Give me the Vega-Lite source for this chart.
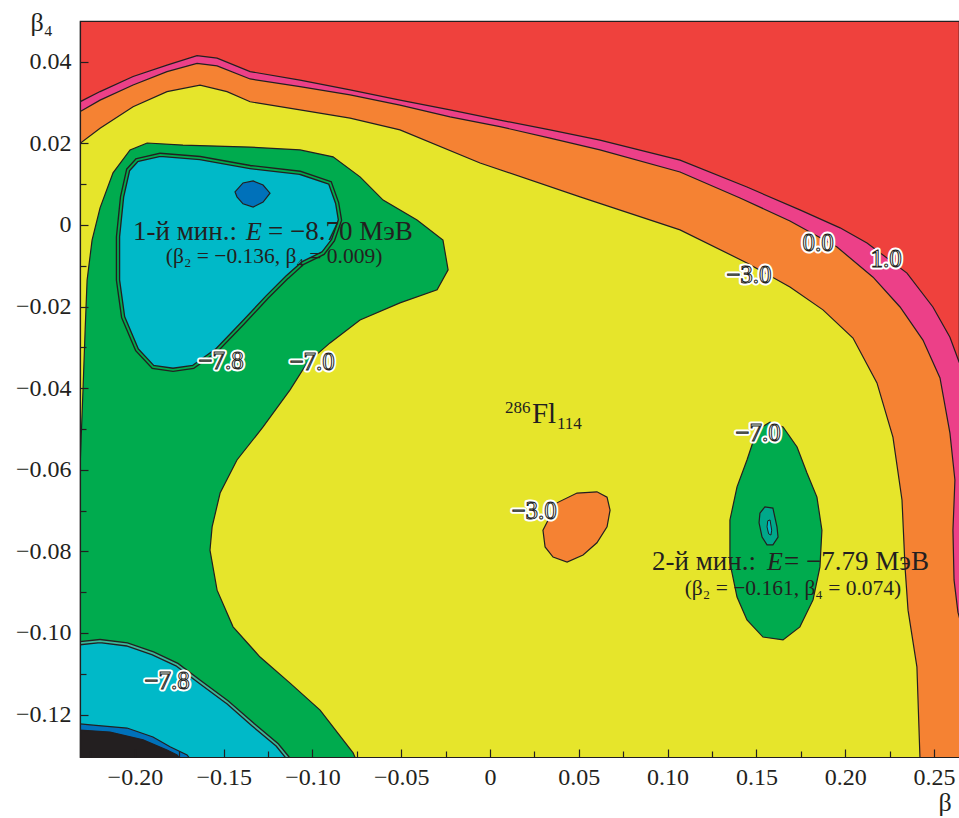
{
"$schema":"https://vega.github.io/schema/vega-lite/v6.json",
"width":879,"height":736,
"autosize":{"type":"none"},
"padding":{"left":80,"top":21,"right":0,"bottom":61},
"background":"white",
"view":{"fill":"#EF413D","stroke":"#231F20","strokeWidth":1.2},
"config":{"font":"Liberation Serif","axis":{"labelFont":"Liberation Serif","titleFont":"Liberation Serif"},"text":{"font":"Liberation Serif"}},
"resolve":{"axis":{"x":"independent","y":"independent"}},
"datasets":{
"poly":[
{"r":"pink","i":0,"x":-0.26,"y":0.0302},{"r":"pink","i":1,"x":-0.2309,"y":0.0302},{"r":"pink","i":2,"x":-0.2196,"y":0.0327},{"r":"pink","i":3,"x":-0.2010,"y":0.0364},{"r":"pink","i":4,"x":-0.1819,"y":0.0392},{"r":"pink","i":5,"x":-0.1650,"y":0.0415},{"r":"pink","i":6,"x":-0.1537,"y":0.0409},{"r":"pink","i":7,"x":-0.1351,"y":0.0376},{"r":"pink","i":8,"x":-0.1070,"y":0.0355},{"r":"pink","i":9,"x":-0.0788,"y":0.0331},{"r":"pink","i":10,"x":-0.0507,"y":0.0306},{"r":"pink","i":11,"x":-0.0225,"y":0.0282},{"r":"pink","i":12,"x":0.0056,"y":0.0257},{"r":"pink","i":13,"x":0.0338,"y":0.0233},{"r":"pink","i":14,"x":0.0619,"y":0.0208},{"r":"pink","i":15,"x":0.1070,"y":0.0159},{"r":"pink","i":16,"x":0.1447,"y":0.0093},{"r":"pink","i":17,"x":0.1745,"y":0.0037},{"r":"pink","i":18,"x":0.1971,"y":-0.0007},{"r":"pink","i":19,"x":0.2123,"y":-0.0044},{"r":"pink","i":20,"x":0.2348,"y":-0.0118},{"r":"pink","i":21,"x":0.2494,"y":-0.0201},{"r":"pink","i":22,"x":0.2590,"y":-0.0275},{"r":"pink","i":23,"x":0.2641,"y":-0.0335},{"r":"pink","i":24,"x":0.2731,"y":-0.0430},{"r":"pink","i":25,"x":0.30,"y":-0.2},{"r":"pink","i":26,"x":-0.26,"y":-0.2},
{"r":"orange","i":0,"x":-0.26,"y":0.0278},{"r":"orange","i":1,"x":-0.2309,"y":0.0278},{"r":"orange","i":2,"x":-0.2196,"y":0.0306},{"r":"orange","i":3,"x":-0.2010,"y":0.0343},{"r":"orange","i":4,"x":-0.1819,"y":0.0376},{"r":"orange","i":5,"x":-0.1650,"y":0.0396},{"r":"orange","i":6,"x":-0.1537,"y":0.0390},{"r":"orange","i":7,"x":-0.1351,"y":0.0358},{"r":"orange","i":8,"x":-0.1070,"y":0.0339},{"r":"orange","i":9,"x":-0.0788,"y":0.0319},{"r":"orange","i":10,"x":-0.0507,"y":0.0294},{"r":"orange","i":11,"x":-0.0225,"y":0.0265},{"r":"orange","i":12,"x":0.0056,"y":0.0241},{"r":"orange","i":13,"x":0.0338,"y":0.0213},{"r":"orange","i":14,"x":0.0619,"y":0.0184},{"r":"orange","i":15,"x":0.1070,"y":0.0130},{"r":"orange","i":16,"x":0.1408,"y":0.0066},{"r":"orange","i":17,"x":0.1689,"y":0.0010},{"r":"orange","i":18,"x":0.1954,"y":-0.0054},{"r":"orange","i":19,"x":0.2157,"y":-0.0128},{"r":"orange","i":20,"x":0.2309,"y":-0.0201},{"r":"orange","i":21,"x":0.2438,"y":-0.0282},{"r":"orange","i":22,"x":0.2534,"y":-0.0375},{"r":"orange","i":23,"x":0.2590,"y":-0.0510},{"r":"orange","i":24,"x":0.2618,"y":-0.0625},{"r":"orange","i":25,"x":0.2607,"y":-0.0748},{"r":"orange","i":26,"x":0.2613,"y":-0.0870},{"r":"orange","i":27,"x":0.2635,"y":-0.0949},{"r":"orange","i":28,"x":0.2691,"y":-0.1042},{"r":"orange","i":29,"x":0.30,"y":-0.1042},{"r":"orange","i":30,"x":0.30,"y":-0.2},{"r":"orange","i":31,"x":-0.26,"y":-0.2},
{"r":"yellow","i":0,"x":-0.26,"y":0.0200},{"r":"yellow","i":1,"x":-0.2309,"y":0.0200},{"r":"yellow","i":2,"x":-0.2196,"y":0.0237},{"r":"yellow","i":3,"x":-0.2010,"y":0.0290},{"r":"yellow","i":4,"x":-0.1819,"y":0.0327},{"r":"yellow","i":5,"x":-0.1633,"y":0.0343},{"r":"yellow","i":6,"x":-0.1481,"y":0.0327},{"r":"yellow","i":7,"x":-0.1351,"y":0.0302},{"r":"yellow","i":8,"x":-0.1070,"y":0.0282},{"r":"yellow","i":9,"x":-0.0788,"y":0.0262},{"r":"yellow","i":10,"x":-0.0507,"y":0.0233},{"r":"yellow","i":11,"x":-0.0056,"y":0.0152},{"r":"yellow","i":12,"x":0.0507,"y":0.0069},{"r":"yellow","i":13,"x":0.1070,"y":-0.0012},{"r":"yellow","i":14,"x":0.1447,"y":-0.0093},{"r":"yellow","i":15,"x":0.1689,"y":-0.0152},{"r":"yellow","i":16,"x":0.1875,"y":-0.0208},{"r":"yellow","i":17,"x":0.2044,"y":-0.0277},{"r":"yellow","i":18,"x":0.2179,"y":-0.0387},{"r":"yellow","i":19,"x":0.2269,"y":-0.0520},{"r":"yellow","i":20,"x":0.2320,"y":-0.0674},{"r":"yellow","i":21,"x":0.2337,"y":-0.0838},{"r":"yellow","i":22,"x":0.2354,"y":-0.0944},{"r":"yellow","i":23,"x":0.2404,"y":-0.1083},{"r":"yellow","i":24,"x":0.2421,"y":-0.1304},{"r":"yellow","i":25,"x":0.2421,"y":-0.2},{"r":"yellow","i":26,"x":-0.26,"y":-0.2},
{"r":"green","i":0,"x":-0.26,"y":-0.0650},{"r":"green","i":1,"x":-0.2330,"y":-0.0650},{"r":"green","i":2,"x":-0.2309,"y":-0.0600},{"r":"green","i":3,"x":-0.2303,"y":-0.0527},{"r":"green","i":4,"x":-0.2292,"y":-0.0404},{"r":"green","i":5,"x":-0.2280,"y":-0.0257},{"r":"green","i":6,"x":-0.2269,"y":-0.0135},{"r":"green","i":7,"x":-0.2241,"y":-0.0037},{"r":"green","i":8,"x":-0.2196,"y":0.0042},{"r":"green","i":9,"x":-0.2123,"y":0.0128},{"r":"green","i":10,"x":-0.2027,"y":0.0184},{"r":"green","i":11,"x":-0.1931,"y":0.0201},{"r":"green","i":12,"x":-0.1729,"y":0.0196},{"r":"green","i":13,"x":-0.1351,"y":0.0191},{"r":"green","i":14,"x":-0.1070,"y":0.0184},{"r":"green","i":15,"x":-0.0884,"y":0.0167},{"r":"green","i":16,"x":-0.0732,"y":0.0118},{"r":"green","i":17,"x":-0.0602,"y":0.0061},{"r":"green","i":18,"x":-0.0411,"y":0.0012},{"r":"green","i":19,"x":-0.0265,"y":-0.0037},{"r":"green","i":20,"x":-0.0236,"y":-0.0110},{"r":"green","i":21,"x":-0.0298,"y":-0.0159},{"r":"green","i":22,"x":-0.0507,"y":-0.0191},{"r":"green","i":23,"x":-0.0732,"y":-0.0233},{"r":"green","i":24,"x":-0.0901,"y":-0.0289},{"r":"green","i":25,"x":-0.1030,"y":-0.0338},{"r":"green","i":26,"x":-0.1126,"y":-0.0404},{"r":"green","i":27,"x":-0.1278,"y":-0.0495},{"r":"green","i":28,"x":-0.1425,"y":-0.0576},{"r":"green","i":29,"x":-0.1520,"y":-0.0657},{"r":"green","i":30,"x":-0.1565,"y":-0.0740},{"r":"green","i":31,"x":-0.1577,"y":-0.0797},{"r":"green","i":32,"x":-0.1537,"y":-0.0895},{"r":"green","i":33,"x":-0.1447,"y":-0.0985},{"r":"green","i":34,"x":-0.1295,"y":-0.1059},{"r":"green","i":35,"x":-0.1126,"y":-0.1123},{"r":"green","i":36,"x":-0.0957,"y":-0.1189},{"r":"green","i":37,"x":-0.0771,"y":-0.1294},{"r":"green","i":38,"x":-0.0704,"y":-0.1360},{"r":"green","i":39,"x":-0.0704,"y":-0.2},{"r":"green","i":40,"x":-0.26,"y":-0.2},
{"r":"oblob","i":0,"x":0.0298,"y":-0.0748},{"r":"oblob","i":1,"x":0.0377,"y":-0.0681},{"r":"oblob","i":2,"x":0.0490,"y":-0.0657},{"r":"oblob","i":3,"x":0.0602,"y":-0.0654},{"r":"oblob","i":4,"x":0.0659,"y":-0.0667},{"r":"oblob","i":5,"x":0.0676,"y":-0.0699},{"r":"oblob","i":6,"x":0.0659,"y":-0.0740},{"r":"oblob","i":7,"x":0.0602,"y":-0.0779},{"r":"oblob","i":8,"x":0.0524,"y":-0.0809},{"r":"oblob","i":9,"x":0.0434,"y":-0.0826},{"r":"oblob","i":10,"x":0.0355,"y":-0.0814},{"r":"oblob","i":11,"x":0.0310,"y":-0.0789},
{"r":"green2","i":0,"x":0.1503,"y":-0.0503},{"r":"green2","i":1,"x":0.1577,"y":-0.0483},{"r":"green2","i":2,"x":0.1650,"y":-0.0495},{"r":"green2","i":3,"x":0.1729,"y":-0.0544},{"r":"green2","i":4,"x":0.1785,"y":-0.0608},{"r":"green2","i":5,"x":0.1841,"y":-0.0667},{"r":"green2","i":6,"x":0.1869,"y":-0.0748},{"r":"green2","i":7,"x":0.1858,"y":-0.0838},{"r":"green2","i":8,"x":0.1819,"y":-0.0919},{"r":"green2","i":9,"x":0.1745,"y":-0.0985},{"r":"green2","i":10,"x":0.1650,"y":-0.1017},{"r":"green2","i":11,"x":0.1537,"y":-0.1010},{"r":"green2","i":12,"x":0.1447,"y":-0.0968},{"r":"green2","i":13,"x":0.1391,"y":-0.0912},{"r":"green2","i":14,"x":0.1351,"y":-0.0828},{"r":"green2","i":15,"x":0.1351,"y":-0.0723},{"r":"green2","i":16,"x":0.1391,"y":-0.0642},{"r":"green2","i":17,"x":0.1447,"y":-0.0576},
{"r":"teal2","i":0,"x":0.1520,"y":-0.0706},{"r":"teal2","i":1,"x":0.1548,"y":-0.0691},{"r":"teal2","i":2,"x":0.1593,"y":-0.0694},{"r":"teal2","i":3,"x":0.1616,"y":-0.0740},{"r":"teal2","i":4,"x":0.1622,"y":-0.0765},{"r":"teal2","i":5,"x":0.1593,"y":-0.0784},{"r":"teal2","i":6,"x":0.1560,"y":-0.0784},{"r":"teal2","i":7,"x":0.1532,"y":-0.0765},{"r":"teal2","i":8,"x":0.1515,"y":-0.0730},
{"r":"cyan3","i":0,"x":0.1564,"y":-0.0725},{"r":"cyan3","i":1,"x":0.1577,"y":-0.0723},{"r":"cyan3","i":2,"x":0.1586,"y":-0.0748},{"r":"cyan3","i":3,"x":0.1582,"y":-0.0760},{"r":"cyan3","i":4,"x":0.1569,"y":-0.0757},{"r":"cyan3","i":5,"x":0.1560,"y":-0.0740},
{"r":"cyan1","i":0,"x":-0.1988,"y":0.0159},{"r":"cyan1","i":1,"x":-0.1858,"y":0.0172},{"r":"cyan1","i":2,"x":-0.1633,"y":0.0164},{"r":"cyan1","i":3,"x":-0.1351,"y":0.0142},{"r":"cyan1","i":4,"x":-0.1070,"y":0.0128},{"r":"cyan1","i":5,"x":-0.0901,"y":0.0103},{"r":"cyan1","i":6,"x":-0.0861,"y":0.0054},{"r":"cyan1","i":7,"x":-0.0845,"y":0.0012},{"r":"cyan1","i":8,"x":-0.0884,"y":-0.0037},{"r":"cyan1","i":9,"x":-0.0940,"y":-0.0069},{"r":"cyan1","i":10,"x":-0.1053,"y":-0.0093},{"r":"cyan1","i":11,"x":-0.1143,"y":-0.0128},{"r":"cyan1","i":12,"x":-0.1256,"y":-0.0177},{"r":"cyan1","i":13,"x":-0.1391,"y":-0.0240},{"r":"cyan1","i":14,"x":-0.1537,"y":-0.0306},{"r":"cyan1","i":15,"x":-0.1672,"y":-0.0348},{"r":"cyan1","i":16,"x":-0.1785,"y":-0.0355},{"r":"cyan1","i":17,"x":-0.1898,"y":-0.0348},{"r":"cyan1","i":18,"x":-0.1988,"y":-0.0306},{"r":"cyan1","i":19,"x":-0.2066,"y":-0.0226},{"r":"cyan1","i":20,"x":-0.2095,"y":-0.0135},{"r":"cyan1","i":21,"x":-0.2095,"y":-0.0029},{"r":"cyan1","i":22,"x":-0.2072,"y":0.0069},{"r":"cyan1","i":23,"x":-0.2038,"y":0.0135},
{"r":"blue1","i":0,"x":-0.1436,"y":0.0081},{"r":"blue1","i":1,"x":-0.1391,"y":0.0103},{"r":"blue1","i":2,"x":-0.1334,"y":0.0108},{"r":"blue1","i":3,"x":-0.1278,"y":0.0098},{"r":"blue1","i":4,"x":-0.1239,"y":0.0078},{"r":"blue1","i":5,"x":-0.1278,"y":0.0056},{"r":"blue1","i":6,"x":-0.1334,"y":0.0044},{"r":"blue1","i":7,"x":-0.1391,"y":0.0052},{"r":"blue1","i":8,"x":-0.1425,"y":0.0069},
{"r":"cyan2","i":0,"x":-0.26,"y":-0.1025},{"r":"cyan2","i":1,"x":-0.2309,"y":-0.1025},{"r":"cyan2","i":2,"x":-0.2196,"y":-0.1020},{"r":"cyan2","i":3,"x":-0.2044,"y":-0.1028},{"r":"cyan2","i":4,"x":-0.1898,"y":-0.1050},{"r":"cyan2","i":5,"x":-0.1762,"y":-0.1078},{"r":"cyan2","i":6,"x":-0.1633,"y":-0.1120},{"r":"cyan2","i":7,"x":-0.1481,"y":-0.1169},{"r":"cyan2","i":8,"x":-0.1334,"y":-0.1225},{"r":"cyan2","i":9,"x":-0.1199,"y":-0.1274},{"r":"cyan2","i":10,"x":-0.1143,"y":-0.1304},{"r":"cyan2","i":11,"x":-0.1087,"y":-0.1336},{"r":"cyan2","i":12,"x":-0.1087,"y":-0.2},{"r":"cyan2","i":13,"x":-0.26,"y":-0.2},
{"r":"blue2","i":0,"x":-0.26,"y":-0.1223},{"r":"blue2","i":1,"x":-0.2309,"y":-0.1223},{"r":"blue2","i":2,"x":-0.2235,"y":-0.1226},{"r":"blue2","i":3,"x":-0.2044,"y":-0.1233},{"r":"blue2","i":4,"x":-0.1898,"y":-0.1255},{"r":"blue2","i":5,"x":-0.1802,"y":-0.1279},{"r":"blue2","i":6,"x":-0.1706,"y":-0.1299},{"r":"blue2","i":7,"x":-0.1661,"y":-0.1324},{"r":"blue2","i":8,"x":-0.1661,"y":-0.2},{"r":"blue2","i":9,"x":-0.26,"y":-0.2},
{"r":"black2","i":0,"x":-0.26,"y":-0.1238},{"r":"black2","i":1,"x":-0.2309,"y":-0.1238},{"r":"black2","i":2,"x":-0.2140,"y":-0.1243},{"r":"black2","i":3,"x":-0.1954,"y":-0.1262},{"r":"black2","i":4,"x":-0.1819,"y":-0.1287},{"r":"black2","i":5,"x":-0.1762,"y":-0.1299},{"r":"black2","i":6,"x":-0.1717,"y":-0.1324},{"r":"black2","i":7,"x":-0.1717,"y":-0.2},{"r":"black2","i":8,"x":-0.26,"y":-0.2}
],
"clabels":[
{"t":"0.0","x":0.1847,"y":-0.0044},{"t":"1.0","x":0.2230,"y":-0.0083},{"t":"−3.0","x":0.1458,"y":-0.0123},{"t":"−7.8","x":-0.1515,"y":-0.0333},{"t":"−7.0","x":-0.1002,"y":-0.0336},{"t":"−7.0","x":0.1509,"y":-0.0510},{"t":"−3.0","x":0.0248,"y":-0.0701},{"t":"−7.8","x":-0.1819,"y":-0.1118}
],
"notes":[
{"t":"1-й мин.:","x":-0.2010,"y":-0.0037},{"t":"= −8.70 МэВ","x":-0.1250,"y":-0.0037},{"t":"2-й мин.:","x":0.0912,"y":-0.0846},{"t":"= −7.79 МэВ","x":0.1656,"y":-0.0846}
],
"notesE":[{"t":"E","x":-0.1374,"y":-0.0037},{"t":"E","x":0.1560,"y":-0.0846}],
"paren":[{"t":"(β₂ = −0.136, β₄ = 0.009)","x":-0.1216,"y":-0.0093},{"t":"(β₂ = −0.161, β₄ = 0.074)","x":0.1706,"y":-0.0907}],
"fl":[{"t":"Fl","x":0.0236,"y":-0.0485}],
"flsmall":[{"t":"286","x":0.0084,"y":-0.0461},{"t":"114","x":0.0377,"y":-0.0500}]
},
"data":{"name":"poly"},
"encoding":{
"x":{"field":"x","type":"quantitative","scale":{"domain":[-0.2309,0.2641],"nice":false,"zero":false},"axis":null},
"y":{"field":"y","type":"quantitative","scale":{"domain":[-0.1304,0.0500],"nice":false,"zero":false},"axis":null},
"order":{"field":"i","type":"quantitative"}
},
"layer":[
{"transform":[{"filter":"datum.r=='pink'"}],
"mark":{"type":"line","interpolate":"linear-closed","fill":"#EC4088","stroke":"#231F20","strokeWidth":1.2,"clip":true},
"encoding":{
"x":{"field":"x","type":"quantitative","scale":{"domain":[-0.2309,0.2641],"nice":false,"zero":false},
"axis":{"orient":"bottom","values":[-0.2,-0.15,-0.1,-0.05,0,0.05,0.1,0.15,0.2,0.25],"labelExpr":"datum.value==0?'0':format(datum.value,'.2f')","ticks":false,"tickSize":0,"labelPadding":8,"labelFont":"Liberation Serif","labelFontSize":24,"labelColor":"#231F20","labelFlush":false,"labelOverlap":false,"domainColor":"#231F20","domainWidth":1.2,"grid":false,"zindex":1,"title":"β","titleFont":"Liberation Serif","titleFontSize":26,"titleFontWeight":"normal","titleColor":"#231F20","titleX":858,"titleY":53,"titleAlign":"left","titleBaseline":"alphabetic"}},
"y":{"field":"y","type":"quantitative","scale":{"domain":[-0.1304,0.0500],"nice":false,"zero":false},
"axis":{"orient":"left","values":[0.04,0.02,0,-0.02,-0.04,-0.06,-0.08,-0.1,-0.12],"labelExpr":"datum.value==0?'0':format(datum.value,'.2f')","ticks":false,"tickSize":0,"labelPadding":9,"labelFont":"Liberation Serif","labelFontSize":24,"labelColor":"#231F20","labelFlush":false,"labelOverlap":false,"domainColor":"#231F20","domainWidth":1.2,"grid":false,"zindex":1,"title":"β₄","titleFont":"Liberation Serif","titleFontSize":26,"titleFontWeight":"normal","titleColor":"#231F20","titleAngle":0,"titleX":-50,"titleY":9,"titleAlign":"left","titleBaseline":"alphabetic"}}
}},
{"transform":[{"filter":"datum.r=='orange'"}],
"mark":{"type":"line","interpolate":"linear-closed","fill":"#F58233","stroke":"#231F20","strokeWidth":1.2,"clip":true},
"encoding":{
"x":{"field":"x","type":"quantitative","scale":{"domain":[-0.2309,0.2641],"nice":false,"zero":false},
"axis":{"orient":"bottom","values":[-0.2,-0.15,-0.1,-0.05,0,0.05,0.1,0.15,0.2,0.25],"labels":false,"domain":false,"grid":false,"tickSize":8,"offset":-8,"tickColor":"#231F20","tickWidth":1.2,"title":null,"zindex":1}},
"y":{"field":"y","type":"quantitative","scale":{"domain":[-0.1304,0.0500],"nice":false,"zero":false},
"axis":{"orient":"left","values":[0.04,0.02,0,-0.02,-0.04,-0.06,-0.08,-0.1,-0.12],"labels":false,"domain":false,"grid":false,"tickSize":8,"offset":-8,"tickColor":"#231F20","tickWidth":1.2,"title":null,"zindex":1}}
}},
{"transform":[{"filter":"datum.r=='yellow'"}],
"mark":{"type":"line","interpolate":"linear-closed","fill":"#E6E52B","stroke":"#231F20","strokeWidth":1.2,"clip":true},
"encoding":{
"x":{"field":"x","type":"quantitative","scale":{"domain":[-0.2309,0.2641],"nice":false,"zero":false},
"axis":{"orient":"bottom","values":[-0.225,-0.175,-0.125,-0.075,-0.025,0.025,0.075,0.125,0.175,0.225],"labels":false,"domain":false,"grid":false,"tickSize":6,"offset":-6,"tickColor":"#231F20","tickWidth":1.2,"title":null,"zindex":1}},
"y":{"field":"y","type":"quantitative","scale":{"domain":[-0.1304,0.0500],"nice":false,"zero":false},
"axis":{"orient":"left","values":[0.01,-0.01,-0.03,-0.05,-0.07,-0.09,-0.11],"labels":false,"domain":false,"grid":false,"tickSize":6,"offset":-6,"tickColor":"#231F20","tickWidth":1.2,"title":null,"zindex":1}}
}},
{"transform":[{"filter":"datum.r=='green'"}],"mark":{"type":"line","interpolate":"linear-closed","fill":"#00AB4E","stroke":"#231F20","strokeWidth":1.2,"clip":true}},
{"transform":[{"filter":"datum.r=='oblob'"}],"mark":{"type":"line","interpolate":"linear-closed","fill":"#F58233","stroke":"#231F20","strokeWidth":1.2,"clip":true}},
{"transform":[{"filter":"datum.r=='green2'"}],"mark":{"type":"line","interpolate":"linear-closed","fill":"#00AB4E","stroke":"#231F20","strokeWidth":1.2,"clip":true}},
{"transform":[{"filter":"datum.r=='teal2'"}],"mark":{"type":"line","interpolate":"linear-closed","fill":"#00A88A","stroke":"#231F20","strokeWidth":1.2,"clip":true}},
{"transform":[{"filter":"datum.r=='cyan3'"}],"mark":{"type":"line","interpolate":"linear-closed","fill":"#00B9C8","stroke":"#231F20","strokeWidth":1,"clip":true}},
{"transform":[{"filter":"datum.r=='cyan1'"}],"mark":{"type":"line","interpolate":"linear-closed","fill":"#00B9C8","stroke":"#231F20","strokeWidth":4.5,"clip":true}},
{"transform":[{"filter":"datum.r=='cyan1'"}],"mark":{"type":"line","interpolate":"linear-closed","stroke":"#00AB4E","strokeWidth":1.8,"clip":true}},
{"transform":[{"filter":"datum.r=='blue1'"}],"mark":{"type":"line","interpolate":"linear-closed","fill":"#0071BA","stroke":"#231F20","strokeWidth":1.2,"clip":true}},
{"transform":[{"filter":"datum.r=='cyan2'"}],"mark":{"type":"line","interpolate":"linear-closed","fill":"#00B9C8","stroke":"#231F20","strokeWidth":4.5,"clip":true}},
{"transform":[{"filter":"datum.r=='cyan2'"}],"mark":{"type":"line","interpolate":"linear-closed","stroke":"#3CB89A","strokeWidth":1.8,"clip":true}},
{"transform":[{"filter":"datum.r=='blue2'"}],"mark":{"type":"line","interpolate":"linear-closed","fill":"#0071BA","stroke":"#231F20","strokeWidth":1.2,"clip":true}},
{"transform":[{"filter":"datum.r=='black2'"}],"mark":{"type":"line","interpolate":"linear-closed","fill":"#231F20","stroke":"#231F20","strokeWidth":1.2,"clip":true}},
{"data":{"name":"clabels"},"mark":{"type":"text","font":"Liberation Serif","fontSize":25,"align":"center","baseline":"middle","fill":"white","stroke":"white","strokeWidth":5,"strokeJoin":"round"},"encoding":{"text":{"field":"t"}}},
{"data":{"name":"clabels"},"mark":{"type":"text","font":"Liberation Serif","fontSize":25,"align":"center","baseline":"middle","fill":"white","stroke":"#231F20","strokeWidth":1},"encoding":{"text":{"field":"t"}}},
{"data":{"name":"notes"},"mark":{"type":"text","font":"Liberation Serif","fontSize":27,"align":"left","baseline":"alphabetic","fill":"#231F20"},"encoding":{"text":{"field":"t"}}},
{"data":{"name":"notesE"},"mark":{"type":"text","font":"Liberation Serif","fontSize":26,"fontStyle":"italic","align":"left","baseline":"alphabetic","fill":"#231F20"},"encoding":{"text":{"field":"t"}}},
{"data":{"name":"paren"},"mark":{"type":"text","font":"Liberation Serif","fontSize":21.5,"align":"center","baseline":"alphabetic","fill":"#231F20"},"encoding":{"text":{"field":"t"}}},
{"data":{"name":"fl"},"mark":{"type":"text","font":"Liberation Serif","fontSize":29,"align":"left","baseline":"alphabetic","fill":"#231F20"},"encoding":{"text":{"field":"t"}}},
{"data":{"name":"flsmall"},"mark":{"type":"text","font":"Liberation Serif","fontSize":17,"align":"left","baseline":"alphabetic","fill":"#231F20"},"encoding":{"text":{"field":"t"}}}
]
}
